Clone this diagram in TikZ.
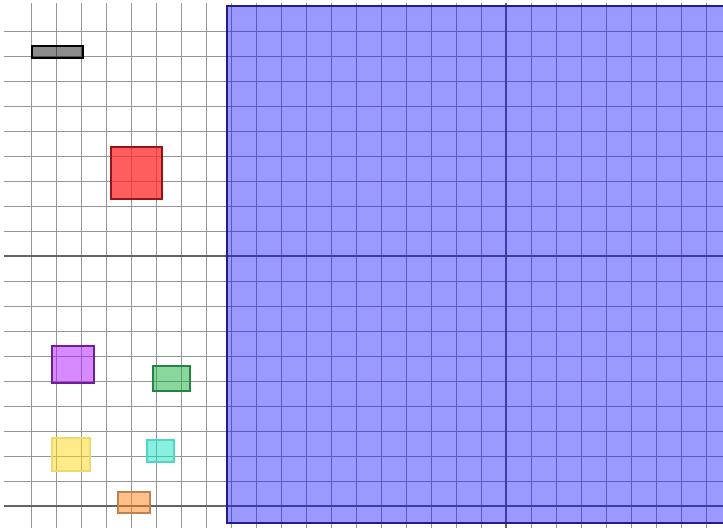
\documentclass[tikz,border=0pt]{standalone}
\usepackage{xcolor}
\usepackage{tikz}
\usetikzlibrary{positioning}

\definecolor{gridgray}{RGB}{150,150,150}
\definecolor{majorgray}{RGB}{100,100,100}
\definecolor{boardblue}{RGB}{0,0,255}
\definecolor{boardedge}{RGB}{30,30,140}
\definecolor{redfill}{RGB}{255,40,40}
\definecolor{rededge}{RGB}{150,20,20}
\definecolor{violetfill}{RGB}{175,20,255}
\definecolor{violetedge}{RGB}{110,30,150}
\definecolor{greenfill}{RGB}{20,175,60}
\definecolor{greenedge}{RGB}{40,130,70}
\definecolor{yellowfill}{RGB}{255,215,20}
\definecolor{yellowedge}{RGB}{240,215,110}
\definecolor{cyanfill}{RGB}{20,225,195}
\definecolor{cyanedge}{RGB}{80,215,195}
\definecolor{orangefill}{RGB}{255,130,20}
\definecolor{orangeedge}{RGB}{190,130,80}

\begin{document}
\begin{tikzpicture}[
    x=1cm, y=1cm,
    minorline/.style={draw=gridgray, line width=0.8pt},
    majorline/.style={draw=majorgray, line width=1.3pt},
    piece/.style={line width=1.4pt, fill opacity=0.5},
    board/.style={fill=boardblue, fill opacity=0.4, draw=boardedge, line width=1.6pt}
]
\useasboundingbox (-0.24,-1) rectangle (28.68,20.24);
\clip (-0.24,-1) rectangle (28.68,20.24);

% grid
\foreach \x in {1,...,28}
    \draw[minorline] (\x,-0.88) -- (\x,20.12);
\foreach \y in {1,...,19}
    \draw[minorline] (-0.08,\y) -- (28.68,\y);
\draw[majorline] (-0.08,0) -- (28.68,0);
\draw[majorline] (-0.08,10) -- (28.68,10);
\draw[majorline] (20,-0.88) -- (20,20.12);

% board
\draw[board] (8.84,-0.68) rectangle (29,20);

% pieces
\draw[piece, fill=black, fill opacity=0.45, draw=black] (1.04,17.92) rectangle (3.08,18.4);
\draw[piece, fill=redfill, fill opacity=0.75, draw=rededge] (4.2,12.28) rectangle (6.24,14.36);
\draw[piece, fill=violetfill, draw=violetedge] (1.84,4.92) rectangle (3.52,6.4);
\draw[piece, fill=greenfill, draw=greenedge] (5.88,4.6) rectangle (7.36,5.6);
\draw[piece, fill=yellowfill, draw=yellowedge] (1.84,1.4) rectangle (3.36,2.72);
\draw[piece, fill=cyanfill, draw=cyanedge] (5.64,1.76) rectangle (6.72,2.64);
\draw[piece, fill=orangefill, draw=orangeedge] (4.48,-0.28) rectangle (5.76,0.56);
\end{tikzpicture}
\end{document}
